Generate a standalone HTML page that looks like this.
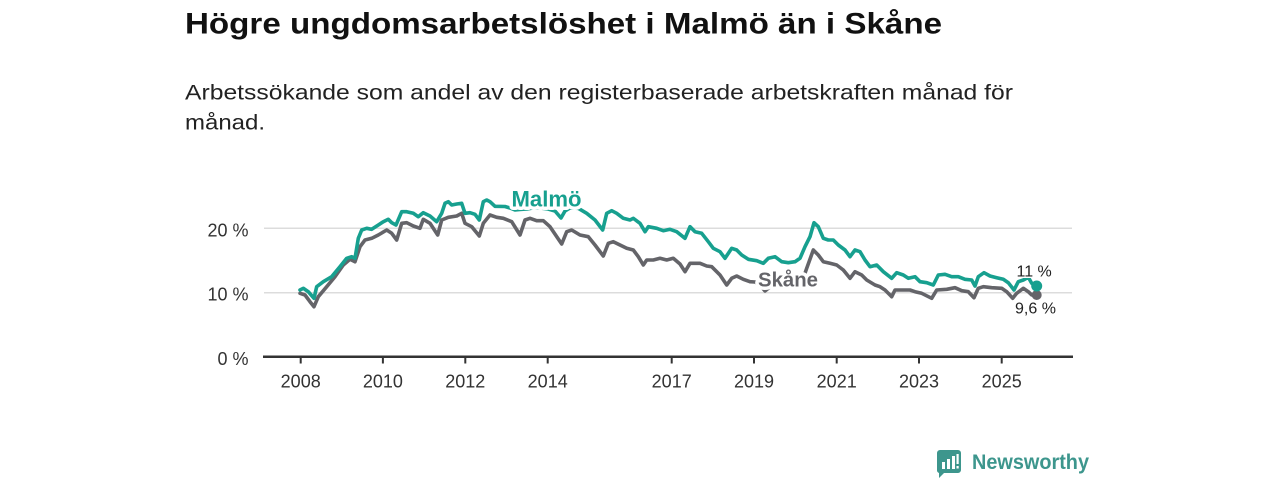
<!DOCTYPE html>
<html><head><meta charset="utf-8"><style>
html,body{margin:0;padding:0;background:#fff;}
svg{display:block;}
</style></head><body>
<svg width="1280" height="480" viewBox="0 0 1280 480" xmlns="http://www.w3.org/2000/svg">
<rect width="1280" height="480" fill="#fff"/>
<text x="185" y="33.5" font-family="Liberation Sans, sans-serif" font-weight="bold" font-size="29.5" fill="#111" textLength="757" lengthAdjust="spacingAndGlyphs">Högre ungdomsarbetslöshet i Malmö än i Skåne</text>
<text x="185" y="99.5" font-family="Liberation Sans, sans-serif" font-size="21" fill="#222" textLength="828" lengthAdjust="spacingAndGlyphs">Arbetssökande som andel av den registerbaserade arbetskraften månad för</text>
<text x="185" y="129.5" font-family="Liberation Sans, sans-serif" font-size="21" fill="#222" textLength="80" lengthAdjust="spacingAndGlyphs">månad.</text>

<g stroke="#dcdcdc" stroke-width="1.5">
<line x1="264" y1="228.3" x2="1072" y2="228.3"/>
<line x1="264" y1="292.7" x2="1072" y2="292.7"/>
</g>
<g font-family="Liberation Sans, sans-serif" font-size="18" fill="#333" text-anchor="end">
<text x="248.5" y="236.5">20 %</text>
<text x="248.5" y="300.7">10 %</text>
<text x="248.5" y="365">0 %</text>
</g>
<line x1="263" y1="356.7" x2="1073" y2="356.7" stroke="#333" stroke-width="2.5"/>
<g stroke="#333" stroke-width="2">
<line x1="300.7" y1="356" x2="300.7" y2="363.5"/>
<line x1="382.9" y1="356" x2="382.9" y2="363.5"/>
<line x1="465.3" y1="356" x2="465.3" y2="363.5"/>
<line x1="547.7" y1="356" x2="547.7" y2="363.5"/>
<line x1="671.7" y1="356" x2="671.7" y2="363.5"/>
<line x1="754" y1="356" x2="754" y2="363.5"/>
<line x1="836.7" y1="356" x2="836.7" y2="363.5"/>
<line x1="919" y1="356" x2="919" y2="363.5"/>
<line x1="1001.7" y1="356" x2="1001.7" y2="363.5"/>
</g>
<g font-family="Liberation Sans, sans-serif" font-size="18" fill="#333" text-anchor="middle">
<text x="300.7" y="387.3">2008</text>
<text x="382.9" y="387.3">2010</text>
<text x="465.3" y="387.3">2012</text>
<text x="547.7" y="387.3">2014</text>
<text x="671.7" y="387.3">2017</text>
<text x="754" y="387.3">2019</text>
<text x="836.7" y="387.3">2021</text>
<text x="919" y="387.3">2023</text>
<text x="1001.7" y="387.3">2025</text>
</g>

<polyline fill="none" stroke="#646469" stroke-width="3.6" stroke-linejoin="round" stroke-linecap="round" points="300,293.3 305,295 310,301.7 314,306.7 318.3,296.7 326.7,286.7 335,276.7 343.3,265 350,259.3 355,261.7 360,246.7 365,240 371.7,238.3 378.3,235 386.7,230 391.7,233.3 396.7,240 401.7,223.3 406.7,222.7 413.3,226 420,228.3 423.3,219.3 430,223.3 437.7,235 441.7,220 448.3,217.3 456.7,216 461.7,213.3 465,223.3 471.7,226.7 479.3,236 483.3,223.3 490,215 496.7,217.3 503.3,218.3 511.7,221.7 520,235 525,220 530,218.3 536.7,220.7 543.3,220.7 550,226.7 561.7,244 566.7,231.7 571.7,230 580,235 588.3,236.7 595,245 603.3,256 608.3,243.3 613.3,241.7 620,245 626.7,248.3 633.3,250 638.3,256.7 643.3,265 646.7,260 653.3,260 660,258.3 666.7,260 673.3,258.3 680,264 685,271.7 690,263.3 700,263.3 706.7,266 711.7,266.7 720,275 726.7,285 731.7,278.3 736.7,276 743.3,279.3 750,281.7 755,282 760,285 765,291 770,287 777,286 785,286.5 792,287 800,287.5 806.7,268.3 813.3,250 818.3,255 823.3,261.7 830,263.3 836.7,265 843.3,270 850,278.3 855,271.7 861.7,275 866.7,280 875,285 880,286.7 885,290 891.7,296.7 895,290 901.7,290 910,290 915,291.7 921.7,293.3 931.7,298.3 936.7,290 946.7,289.3 955,287.7 961.7,290.7 968.3,291.7 974,297.7 978.3,288.3 983.3,286.7 991.7,287.7 1001.7,288.3 1006.7,291.7 1012.7,298.3 1016.7,293.3 1023.3,288.3 1028.3,291.7 1031.7,295 1036.7,295"/>

<polyline fill="none" stroke="#17a08f" stroke-width="3.6" stroke-linejoin="round" stroke-linecap="round" points="300,290 303.3,288.3 308.3,291.7 314,298.3 316.7,286.7 323.3,281.7 331.7,276.7 340,266.7 346.7,258.3 351.7,256.7 355,258.3 358.3,238.3 361.7,230 366.7,228.3 371.7,229.3 378.3,225 383.3,221.7 388.3,219.3 391.7,222.7 396,225 401.7,211.7 406.7,211.7 413.3,213.3 418.3,216.7 423.3,212.7 430,216 436.7,221.7 441.7,213.3 445,203.3 448.3,201.7 451.7,205 456.7,204 461.7,203.3 465,213.3 470,212.7 475,214.3 479.3,220 483.3,201.7 486.7,200 490,201.7 495,206.3 505,206.5 510,208 515,210 520,209.5 527,209 533,208 540,208 548,209 555,211 561,218 565,211 570,208 578.3,208.3 586.7,213.3 595,220 602.7,230 606.7,213.3 611.7,210.7 616.7,213.3 623.3,218.3 630,220 633.3,218.3 640,223.3 645,231.7 648.3,226.7 656.7,228.3 663.3,230.7 670,229.3 676.7,231.7 685,238.3 690,226.7 695,231.7 701.7,233.3 708.3,241.7 713.3,248.3 720,251.7 725,258.3 731.7,248.3 736.7,250 741.7,255 748.3,259.3 756.7,260.7 763.3,263.3 768.3,258.3 775,256.7 781.7,261.7 788.3,262.7 795,261.7 800,258.3 805,246.7 810,236.7 814,222.7 818.3,226.7 823.3,238.3 828.3,240 833.3,240 838.3,245 845,250 850,256.7 855,250 860,251.7 865,260 870,266.7 876.7,265 883.3,271.7 891.7,278.3 896.7,272.7 903.3,275 908.3,278.3 915,276.7 920,281.7 926.7,282.7 933.3,285 938.3,275 945,274.3 951.7,276.7 958.3,276.7 965,279.3 971.7,280 975,286 978.3,276.7 984,272.7 990,276 996.7,277.7 1003.3,279.3 1008.3,282.7 1014,290 1018.3,281.7 1023.3,280 1028.3,277.3 1031.7,283.3 1036.7,286"/>

<g font-family="Liberation Sans, sans-serif" font-weight="bold" stroke="#fff" stroke-width="7" stroke-linejoin="round" paint-order="stroke">
<text x="511.5" y="206.5" font-size="22" fill="#17a08f" textLength="70" lengthAdjust="spacingAndGlyphs">Malmö</text>
<text x="758" y="286.7" font-size="20.5" fill="#646469" textLength="60" lengthAdjust="spacingAndGlyphs">Skåne</text>
</g>

<circle cx="1036.7" cy="295" r="5" fill="#646469"/>
<circle cx="1036.7" cy="286" r="5.5" fill="#17a08f"/>
<g font-family="Liberation Sans, sans-serif" font-size="16" fill="#222" stroke="#fff" stroke-width="3" paint-order="stroke">
<text x="1016.5" y="276.7">11 %</text>
<text x="1015" y="313.5">9,6 %</text>
</g>

<g>
<path d="M940,450 h18 a3,3 0 0 1 3,3 v17 a3,3 0 0 1 -3,3 h-14 l-5,5 v-5 a3,3 0 0 1 -2,-3 v-17 a3,3 0 0 1 3,-3 z" fill="#3d968d"/>
<rect x="942" y="462" width="3" height="7" fill="#fff"/>
<rect x="947" y="459" width="3" height="10" fill="#fff"/>
<rect x="952" y="456" width="3" height="13" fill="#fff"/>
<rect x="956.5" y="454" width="2.2" height="10" fill="#fff"/>
<rect x="956.5" y="466" width="2.2" height="2.5" fill="#fff"/>
</g>
<text x="972" y="469" font-family="Liberation Sans, sans-serif" font-weight="bold" font-size="21" fill="#3d968d" textLength="117" lengthAdjust="spacingAndGlyphs">Newsworthy</text>
</svg>
</body></html>
